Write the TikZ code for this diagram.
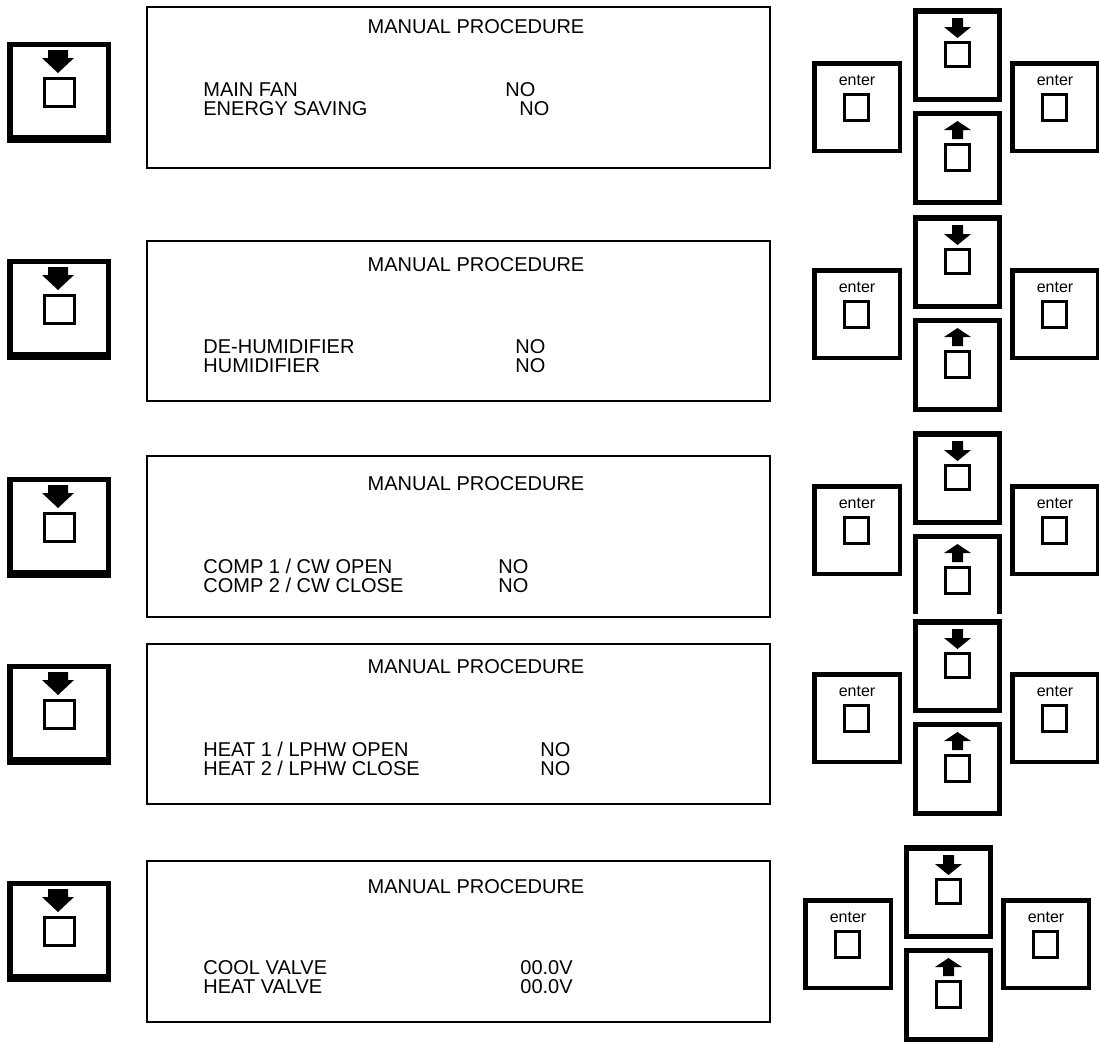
\documentclass[tikz,border=0pt]{standalone}
\usepackage{fontspec}
\setmainfont{Liberation Sans}
\usetikzlibrary{positioning, calc}

\tikzset{
  screen/.style={draw, line width=0.7pt},
  lcdtext/.style={font=\fontsize{10}{12}\selectfont, inner sep=0pt, text height=7.2pt, text depth=0pt, anchor=base west},
  lcdtitle/.style={lcdtext, anchor=base},
  keylabel/.style={font=\fontsize{8}{8}\selectfont, inner sep=0pt},
  pics/side key/.style={code={
    \fill (0,0) rectangle (104,101);
    \fill[white] (6,5) rectangle (99,93);
    \fill (41,8) -- (61,8) -- (61,16) -- (67,16) -- (51,31) -- (35,16) -- (41,16) -- cycle;
    \draw[line width=1.5pt] (37.5,36.5) rectangle (67.5,64.5);
  }},
  pics/down key/.style={code={
    \fill (0,0) rectangle (89,94);
    \fill[white] (5,6) rectangle (84,89);
    \fill (39,10) -- (50,10) -- (50,19) -- (58,19) -- (44.5,30) -- (31,19) -- (39,19) -- cycle;
    \draw[line width=1.5pt] (32.5,34.5) rectangle (56.5,58.5);
  }},
  pics/up key/.style={code={
    \fill (0,0) rectangle (89,94);
    \fill[white] (5,5) rectangle (84,89);
    \fill (44.5,10) -- (58,19) -- (50,19) -- (50,28) -- (39,28) -- (39,19) -- (31,19) -- cycle;
    \draw[line width=1.5pt] (32.5,33.5) rectangle (56.5,59.5);
  }},
  pics/enter key/.style={code={
    \fill (0,0) rectangle (90,92);
    \fill[white] (4.5,4.5) rectangle (85.5,87.5);
    \node[keylabel] (-lbl) at (45,19) {enter};
    \draw[line width=1.5pt] (32.5,33.5) rectangle (56.5,59.5);
  }},
  pics/keypad/.style={code={
    \pic (-dn) at (0,0) {down key};
    \pic (-up) at (0,103) {up key};
    \pic (-left) at (-101,53) {enter key};
    \pic (-right) at (97,53) {enter key};
  }}
}

\begin{document}
\begin{tikzpicture}[x=0.5pt, y=-0.5pt]
  \useasboundingbox (0,0) rectangle (1099,1041);

  % fan / energy saving
  \pic (side1) at (7,42) {side key};
  \draw[screen] (147,7) rectangle (770,168);
  \node[lcdtitle] (title1) at (476,33) {MANUAL PROCEDURE};
  \node[lcdtext] (item1a) at (203,96) {MAIN FAN};
  \node[lcdtext] (val1a) at (505,96) {NO};
  \node[lcdtext] (item1b) at (203,115) {ENERGY SAVING};
  \node[lcdtext] (val1b) at (519,115) {NO};
  \pic (pad1) at (913,8) {keypad};

  % humidity
  \pic (side2) at (7,259) {side key};
  \draw[screen] (147,241) rectangle (770,401);
  \node[lcdtitle] (title2) at (476,271) {MANUAL PROCEDURE};
  \node[lcdtext] (item2a) at (203,353) {DE-HUMIDIFIER};
  \node[lcdtext] (val2a) at (515,353) {NO};
  \node[lcdtext] (item2b) at (203,372) {HUMIDIFIER};
  \node[lcdtext] (val2b) at (515,372) {NO};
  \pic (pad2) at (913,215) {keypad};

  % compressors
  \pic (side3) at (7,477) {side key};
  \draw[screen] (147,456) rectangle (770,617);
  \node[lcdtitle] (title3) at (476,490) {MANUAL PROCEDURE};
  \node[lcdtext] (item3a) at (203,573) {COMP 1 / CW OPEN};
  \node[lcdtext] (val3a) at (498,573) {NO};
  \node[lcdtext] (item3b) at (203,592) {COMP 2 / CW CLOSE};
  \node[lcdtext] (val3b) at (498,592) {NO};
  \begin{scope}
    \clip (780,420) rectangle (1099,613);
    \pic (pad3) at (913,431) {keypad};
  \end{scope}

  % heaters
  \pic (side4) at (7,664) {side key};
  \draw[screen] (147,644) rectangle (770,804);
  \node[lcdtitle] (title4) at (476,673) {MANUAL PROCEDURE};
  \node[lcdtext] (item4a) at (203,756) {HEAT 1 / LPHW OPEN};
  \node[lcdtext] (val4a) at (540,756) {NO};
  \node[lcdtext] (item4b) at (203,775) {HEAT 2 / LPHW CLOSE};
  \node[lcdtext] (val4b) at (540,775) {NO};
  \pic (pad4) at (913,619) {keypad};

  % valves
  \pic (side5) at (7,881) {side key};
  \draw[screen] (147,861) rectangle (770,1022);
  \node[lcdtitle] (title5) at (476,893) {MANUAL PROCEDURE};
  \node[lcdtext] (item5a) at (203,974) {COOL VALVE};
  \node[lcdtext] (val5a) at (520,974) {00.0V};
  \node[lcdtext] (item5b) at (203,993) {HEAT VALVE};
  \node[lcdtext] (val5b) at (520,993) {00.0V};
  \pic (pad5) at (904,845) {keypad};
\end{tikzpicture}
\end{document}
